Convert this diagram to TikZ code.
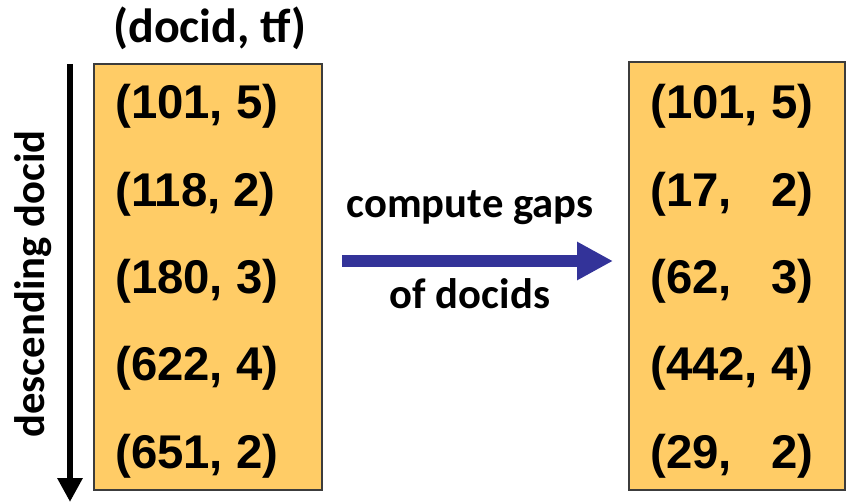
\documentclass[tikz,border=0pt]{standalone}
\usepackage{fontspec}
\setmainfont{Carlito}
\newfontfamily\tuplefont{Liberation Sans}
\usetikzlibrary{arrows.meta}
\definecolor{boxfill}{RGB}{255,204,102}
\definecolor{boxline}{RGB}{60,60,60}
\definecolor{gapblue}{RGB}{51,51,153}
\tikzset{
  postbox/.style={draw=boxline, fill=boxfill, line width=1.2pt, inner sep=0pt},
  tuple/.style={anchor=base west, inner sep=0pt, font=\tuplefont\bfseries\fontsize{35.5}{40}\selectfont},
  label/.style={inner sep=0pt, font=\bfseries\fontsize{32}{36}\selectfont},
}

\begin{document}
\begin{tikzpicture}[x=0.75pt,y=-0.75pt]
  \useasboundingbox (0,0) rectangle (847,503);
  \node[postbox, minimum width=171pt, minimum height=319.5pt] (docbox) at (208,277) {};
  \node[postbox, minimum width=162pt, minimum height=321pt] (gapbox) at (737,276) {};
  \node[label, anchor=base, font=\bfseries\fontsize{36}{40}\selectfont] (head) at (210,43) {(docid, tf)};
  \foreach \d/\t [count=\i from 0] in {101/5, 118/2, 180/3, 622/4, 651/2}
    \node[tuple] (doc\i) at (115,119+87.25*\i) {(\d, \t)};
  \foreach \d/\t [count=\i from 0] in {101/5, 17/2, 62/3, 442/4, 29/2}
    \node[tuple] (gap\i) at (650,119+87.25*\i) {(\d,\ifnum\d<100 \phantom{0}\fi{} \t)};
  \coordinate (ordtop) at (70,64);
  \coordinate (ordend) at (70,502);
  \draw[line width=5.2pt, -{Triangle[length=18pt,width=18pt]}] (ordtop) -- (ordend);
  \node[label, anchor=base, rotate=90] (order) at (45,284) {descending docid};
  \coordinate (gapstart) at (342,261);
  \coordinate (gapend) at (613,261);
  \draw[gapblue, line width=9pt, -{Triangle[length=27pt,width=27pt]}] (gapstart) -- (gapend);
  \node[label, anchor=base] (compute) at (470,217) {compute gaps};
  \node[label, anchor=base] (ofdocids) at (470,308) {of docids};
\end{tikzpicture}
\end{document}
